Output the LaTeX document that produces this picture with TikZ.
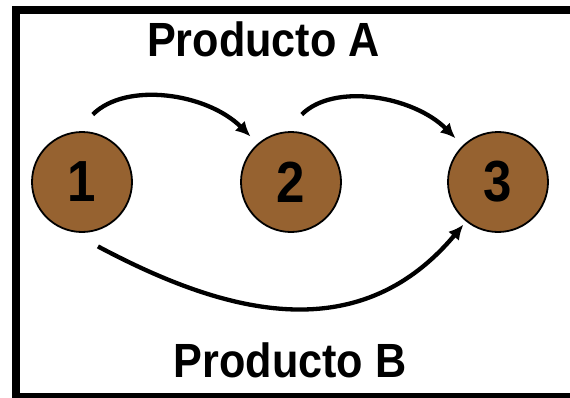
\documentclass[tikz,border=0pt]{standalone}
\usepackage{fontspec}
\setmainfont{Liberation Sans}
\usetikzlibrary{arrows.meta}
\definecolor{nodebrown}{RGB}{150,98,48}
\newcommand{\narrow}[1]{\scalebox{0.88}[1]{#1}}
\tikzset{
  station/.style={circle, draw=black, line width=1.8pt, fill=nodebrown,
    minimum size=100pt, inner sep=0pt,
    font=\fontsize{58}{60}\selectfont\bfseries},
  flow/.style={line width=4.3pt, -{Latex[length=15pt,width=14pt]}},
  caption/.style={font=\fontsize{48}{50}\selectfont\bfseries, inner sep=0pt, anchor=base}
}
\begin{document}
\begin{tikzpicture}[x=1pt,y=1pt]
  \useasboundingbox (0,0) rectangle (570,397);
  \clip (0,0) rectangle (570,397);
  \fill[white] (0,0) rectangle (570,397);
  % outer frame
  \draw[line width=8pt] (16,387) rectangle (580,0);

  % stations
  \node[station] (n1) at (82,215) {\narrow{1}};
  \node[station] (n2) at (291,215) {\narrow{2}};
  \node[station] (n3) at (498,215) {\narrow{3}};

  % product routes
  \draw[flow, shorten <=24pt, shorten >=10pt] (n1.97) to[out=45,in=135] (n2.131);
  \draw[flow, shorten <=24pt, shorten >=10pt] (n2.97) to[out=45,in=135] (n3.134);
  \draw[flow, shorten <=32pt, shorten >=4pt] (n1.-104) to[out=-28,in=-130,looseness=1.1] (n3.231);

  % labels
  \node[caption] (pa) at (263.5,340) {\scalebox{0.9}[1]{Producto A}};
  \node[caption] (pb) at (290,20) {\scalebox{0.9}[1]{Producto B}};
\end{tikzpicture}
\end{document}
